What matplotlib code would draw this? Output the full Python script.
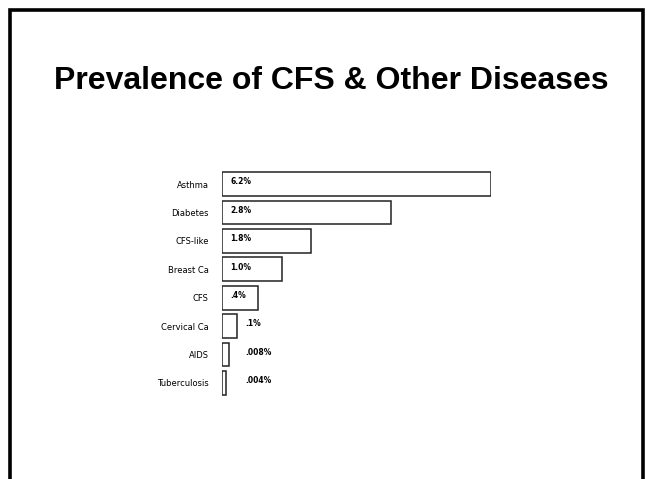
import matplotlib
matplotlib.use('Agg')
import matplotlib.pyplot as plt
from matplotlib.patches import Rectangle

# data
diseases = ['Asthma', 'Diabetes', 'CFS-like', 'Breast Ca', 'CFS',
            'Cervical Ca', 'AIDS', 'Tuberculosis']
value_labels = ['6.2%', '2.8%', '1.8%', '1.0%', '.4%', '.1%', '.008%', '.004%']
# bar lengths as drawn on the slide (longest bar = 100), not to scale with the labels
bar_lengths = [100, 63, 33, 22.3, 13.3, 5.5, 2.6, 1.5]

W, H = 647, 479
fig = plt.figure(figsize=(W / 100, H / 100), dpi=100)
fig.patch.set_facecolor('white')

# slide frame
fig.patches.append(Rectangle((10 / W, -0.05), 633 / W, 1.05 - 10 / H,
                             transform=fig.transFigure, fill=False,
                             edgecolor='black', linewidth=2.6))

fig.text(331 / W, 1 - 89 / H, 'Prevalence of CFS & Other Diseases',
         ha='center', va='baseline', fontsize=23, fontweight='bold',
         family='Liberation Sans')

# axes: x=0 at px 222, x=100 at px 491, rows centred 184..383
left, right = 222 / W, 491 / W
top, bottom = 1 - 169.8 / H, 1 - 397.2 / H
ax = fig.add_axes([left, bottom, right - left, top - bottom])

pos = list(range(len(diseases)))
ax.barh(pos, bar_lengths, height=0.83, color='white', edgecolor='#222222',
        linewidth=1.1)
ax.set_xlim(0, 100)
ax.set_ylim(len(diseases) - 0.5, -0.5)

ax.set_yticks(pos)
ax.set_yticklabels(diseases, fontsize=6, family='DejaVu Sans')
ax.tick_params(axis='y', length=0, pad=9.5)
ax.set_xticks([])
for s in ax.spines.values():
    s.set_visible(False)

for i, (v, lab) in enumerate(zip(bar_lengths, value_labels)):
    x = 3 if v > 10 else 8.5
    ax.text(x, i - 0.08, lab, ha='left', va='center', fontsize=5.5,
            fontweight='bold', family='DejaVu Sans')

fig.savefig('out.png', dpi=100)
